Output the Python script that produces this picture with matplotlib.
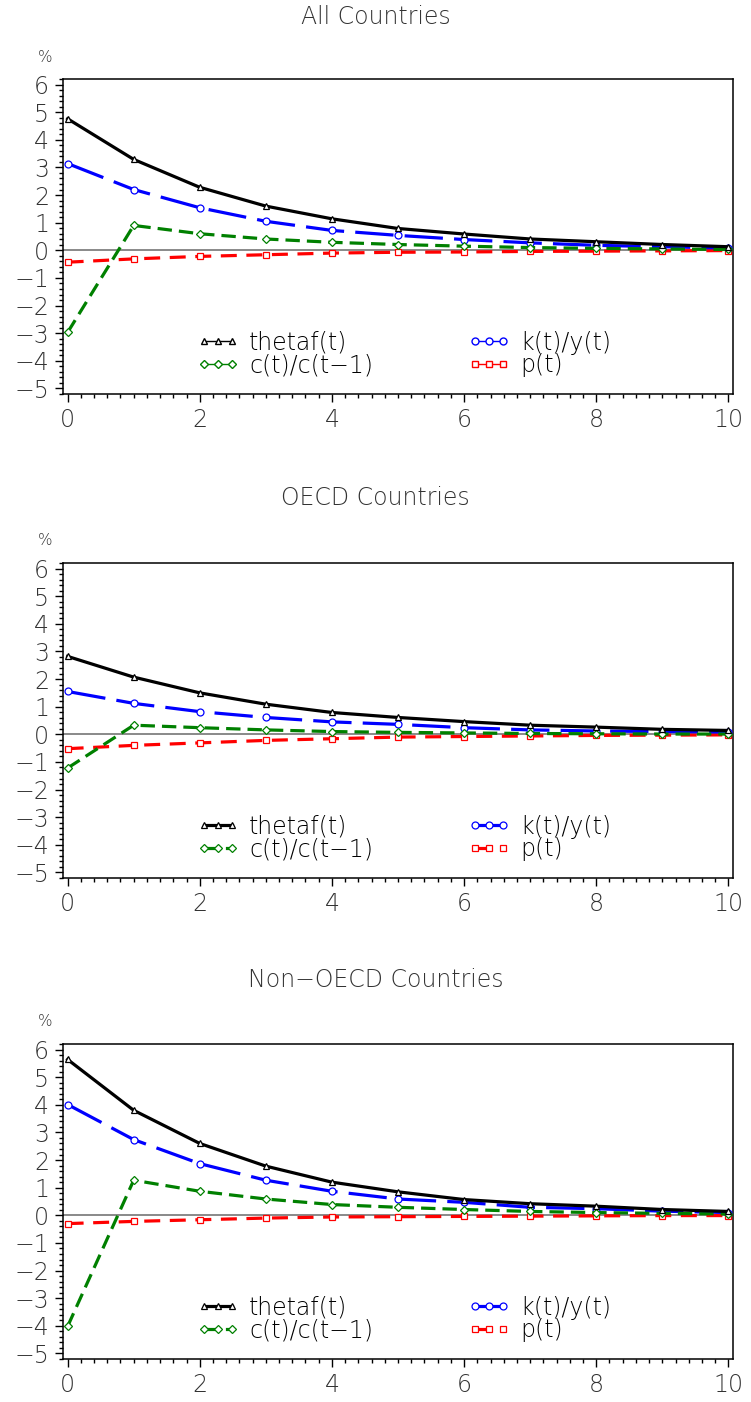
import matplotlib
matplotlib.use("Agg")
import matplotlib.pyplot as plt
from matplotlib.lines import Line2D
from matplotlib.ticker import MultipleLocator

# periods
t = list(range(11))

titles = ["All Countries", "OECD Countries", "Non\u2212OECD Countries"]
names = ["thetaf(t)", "c(t)/c(t\u22121)", "k(t)/y(t)", "p(t)"]

# All countries
all_theta = [4.76, 3.29, 2.28, 1.60, 1.14, 0.79, 0.59, 0.41, 0.31, 0.21, 0.13]
all_ky = [3.14, 2.20, 1.54, 1.05, 0.72, 0.54, 0.39, 0.27, 0.18, 0.13, 0.08]
all_c = [-2.97, 0.90, 0.60, 0.41, 0.29, 0.21, 0.15, 0.10, 0.07, 0.05, 0.03]
all_p = [-0.43, -0.31, -0.22, -0.16, -0.10, -0.07, -0.06, -0.04, -0.03, -0.02, -0.01]

# OECD countries
oecd_theta = [2.82, 2.07, 1.50, 1.09, 0.79, 0.61, 0.46, 0.33, 0.26, 0.18, 0.14]
oecd_ky = [1.55, 1.12, 0.82, 0.61, 0.45, 0.36, 0.24, 0.16, 0.12, 0.10, 0.08]
oecd_c = [-1.22, 0.33, 0.24, 0.16, 0.10, 0.07, 0.05, 0.03, 0.02, 0.01, 0.01]
oecd_p = [-0.52, -0.40, -0.31, -0.22, -0.16, -0.10, -0.08, -0.06, -0.04, -0.03, -0.02]

# Non-OECD countries
non_theta = [5.64, 3.80, 2.60, 1.78, 1.20, 0.85, 0.57, 0.42, 0.33, 0.21, 0.14]
non_ky = [4.01, 2.74, 1.87, 1.27, 0.87, 0.59, 0.47, 0.29, 0.24, 0.15, 0.10]
non_c = [-4.02, 1.27, 0.87, 0.59, 0.39, 0.29, 0.21, 0.14, 0.10, 0.07, 0.05]
non_p = [-0.30, -0.22, -0.16, -0.10, -0.06, -0.05, -0.04, -0.03, -0.02, -0.01, -0.01]

panels = [
    (all_theta, all_c, all_ky, all_p),
    (oecd_theta, oecd_c, oecd_ky, oecd_p),
    (non_theta, non_c, non_ky, non_p),
]

colors = ["black", "green", "blue", "red"]
markers = ["^", "D", "o", "s"]
msizes = [5, 4, 5, 5]
dashes = [None, (4.5, 2.2), (12, 3.5), (5, 3)]

plt.rcParams["font.family"] = "DejaVu Sans"
plt.rcParams["font.weight"] = "light"

fig = plt.figure(figsize=(7.51, 14.02), dpi=100)

H = 1402.0
tops = [79, 563, 1044]
ax_h = 315
left, width = 63 / 751, 670 / 751
title_y = [17, 498, 980]
pct_y = [58, 541, 1022]

for i, series in enumerate(panels):
    ax = fig.add_axes([left, 1 - (tops[i] + ax_h) / H, width, ax_h / H])
    ax.axhline(0, color="gray", lw=1.3, zorder=1)
    handles = []
    for j, ys in enumerate(series):
        kw = dict(color=colors[j], lw=2.3, marker=markers[j], ms=msizes[j],
                  mfc="white", mec=colors[j], mew=0.9, zorder=3 - j * 0.1)
        if dashes[j] is None:
            ln, = ax.plot(t, ys, ls="-", **kw)
        else:
            ln, = ax.plot(t, ys, ls="--", dashes=dashes[j], **kw)
        handles.append(ln)
    if i == 0:
        handles = [Line2D([], [], color=colors[j], lw=1, marker=markers[j],
                          ms=msizes[j], mfc="white", mec=colors[j])
                   for j in range(4)]
    ax.legend(handles, names, ncol=2, loc="lower left",
              bbox_to_anchor=(0.175, 0.0), frameon=False, fontsize=17,
              numpoints=3, handlelength=1.8, handletextpad=0.42,
              columnspacing=4.0, labelspacing=-0.05, borderpad=0.2)

    ax.set_xlim(-0.07, 10.07)
    ax.set_ylim(-5.2, 6.2)
    ax.xaxis.set_major_locator(MultipleLocator(2))
    ax.xaxis.set_minor_locator(MultipleLocator(0.2))
    ax.yaxis.set_major_locator(MultipleLocator(1))
    ax.yaxis.set_minor_locator(MultipleLocator(0.2))
    ax.tick_params(which="both", direction="out", right=False, top=False,
                   width=1, labelsize=17)
    ax.tick_params(which="major", length=6, pad=4)
    ax.tick_params(which="minor", length=3)
    for sp in ax.spines.values():
        sp.set_linewidth(1.1)
    for lab in ax.get_xticklabels() + ax.get_yticklabels():
        lab.set_color("#333333")

    fig.text(0.5, 1 - title_y[i] / H, titles[i], ha="center", va="center",
             fontsize=17, color="#333333")
    fig.text(45 / 751, 1 - pct_y[i] / H, "%", ha="center", va="center",
             fontsize=11, color="#333333")

fig.savefig("out.png", dpi=100)
